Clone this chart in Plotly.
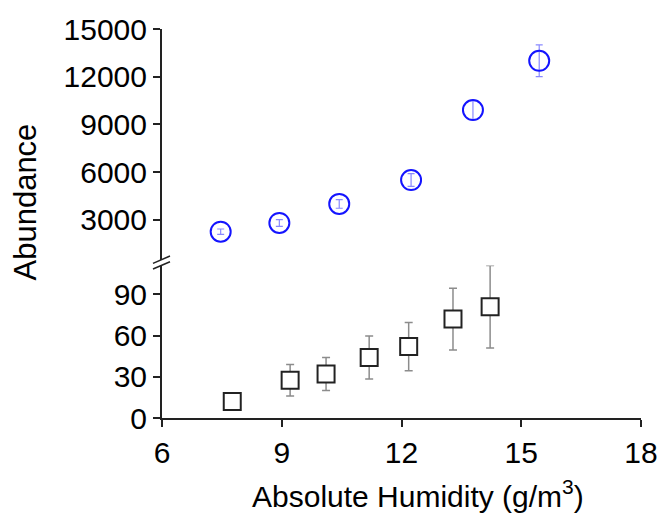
import plotly.graph_objects as go

# Datos: serie alta (circulos azules) y serie baja (cuadrados)
humedad_alta = [7.47, 8.94, 10.44, 12.24, 13.79, 15.45]
abundancia_alta = [2250, 2800, 4000, 5500, 9900, 13000]
error_alta = [170, 210, 275, 400, 600, 1000]

humedad_baja = [7.76, 9.21, 10.11, 11.19, 12.18, 13.29, 14.22]
abundancia_baja = [12, 27.5, 32, 44, 52, 72, 81]
error_baja = [4, 11.5, 12, 15.6, 17.6, 22.5, 30]

ticks_x = [6, 9, 12, 15, 18]
ticks_alta = [3000, 6000, 9000, 12000, 15000]
ticks_baja = [0, 30, 60, 90]

FUENTE = "Liberation Sans, Arial, sans-serif"

fig = go.Figure()

fig.add_trace(go.Scatter(
    x=humedad_alta, y=abundancia_alta,
    mode="markers",
    marker=dict(symbol="circle-open", size=20, color="#1414ff",
                line=dict(width=2, color="#1414ff")),
    error_y=dict(type="data", array=error_alta, color="rgba(40,40,255,0.55)",
                 thickness=1.2, width=3.5),
    xaxis="x", yaxis="y2",
    showlegend=False,
))

fig.add_trace(go.Scatter(
    x=humedad_baja, y=abundancia_baja,
    mode="markers",
    marker=dict(symbol="square", size=17, color="white",
                line=dict(width=2, color="#222222")),
    error_y=dict(type="data", array=error_baja, color="#8c8c8c",
                 thickness=1.5, width=4),
    xaxis="x", yaxis="y",
    showlegend=False,
))

eje = dict(showgrid=False, zeroline=False, showline=True, linecolor="#222222",
           linewidth=2, ticks="outside", ticklen=7, tickwidth=1.5,
           tickcolor="#222222", automargin=False,
           tickfont=dict(family=FUENTE, size=30, color="black"))

fig.update_layout(
    width=662, height=516,
    margin=dict(l=162, r=21, t=29, b=98),
    plot_bgcolor="white", paper_bgcolor="white",
    xaxis=dict(range=[6, 18], tickvals=ticks_x, ticktext=[str(v) for v in ticks_x],
               anchor="y", **eje),
    yaxis=dict(range=[0, 111], tickvals=ticks_baja,
               ticktext=[str(v) for v in ticks_baja], domain=[0, 0.392],
               anchor="x", **eje),
    yaxis2=dict(range=[492, 15000], tickvals=ticks_alta,
                ticktext=[str(v) for v in ticks_alta], domain=[0.407, 1],
                anchor="x", **eje),
    annotations=[
        dict(text="Absolute Humidity (g/m<sup>3</sup>)", xref="paper", yref="paper",
             x=0.534, y=-0.196, xanchor="center", yanchor="middle", showarrow=False,
             font=dict(family=FUENTE, size=30, color="black")),
        dict(text="Abundance", xref="paper", yref="paper", textangle=-90,
             x=-0.286, y=0.554, xanchor="center", yanchor="middle", showarrow=False,
             font=dict(family=FUENTE, size=31, color="black")),
    ],
    shapes=[
        # marcas de corte del eje y
        dict(type="line", xref="paper", yref="paper", xsizemode="pixel",
             ysizemode="pixel", xanchor=0, yanchor=0.3996,
             x0=-9, x1=8, y0=-0.8, y1=6.5, line=dict(color="#222222", width=1.5)),
        dict(type="line", xref="paper", yref="paper", xsizemode="pixel",
             ysizemode="pixel", xanchor=0, yanchor=0.3996,
             x0=-9, x1=8, y0=-6.5, y1=0.8, line=dict(color="#222222", width=1.5)),
    ],
)

fig.write_html("out.html", config={"displayModeBar": False},
               post_script="document.body.style.margin='0px';")
